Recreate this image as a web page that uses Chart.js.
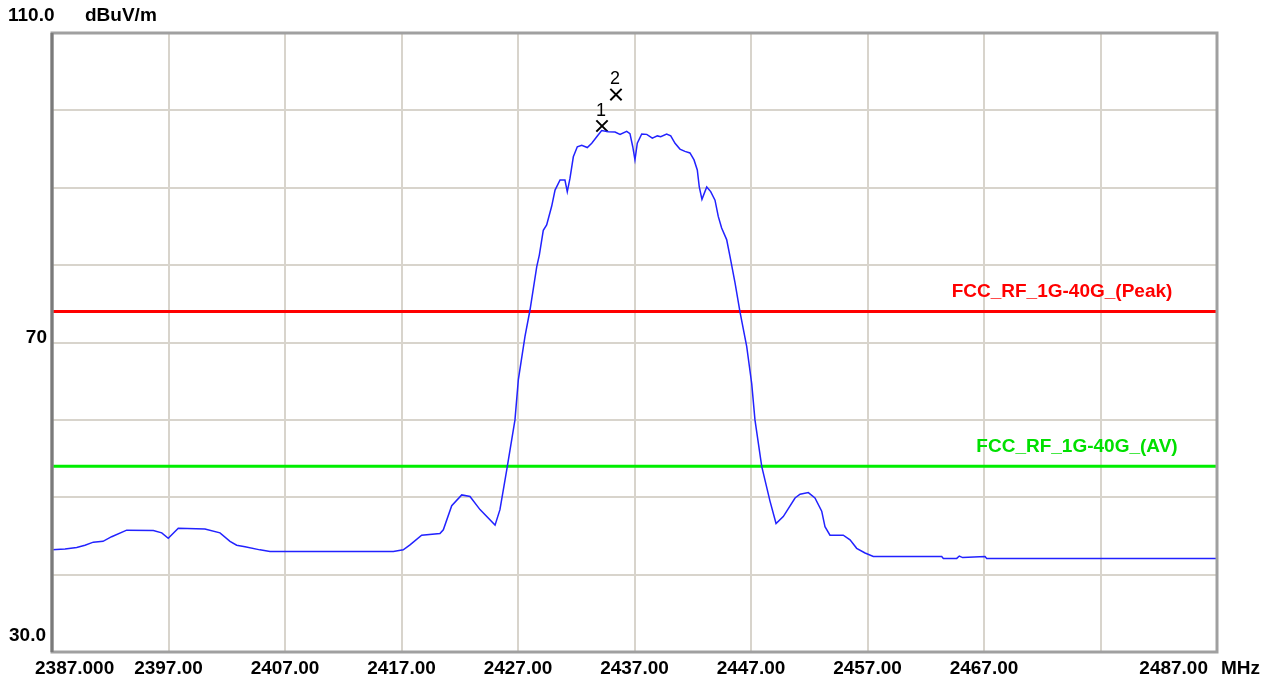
<!DOCTYPE html>
<html>
<head>
<meta charset="utf-8">
<script src="https://cdn.jsdelivr.net/npm/chart.js@4"></script>
<style>
  html, body { margin: 0; padding: 0; background: #ffffff; }
  canvas { display: block; }
</style>
</head>
<body>
<canvas id="chart" width="1270" height="684"></canvas>
<script>

const freqMHz = [
    2387.00, 2388.12, 2389.12, 2389.83, 2390.55, 2391.38, 2392.12, 2393.41, 2395.70, 2396.42,
    2396.98, 2397.84, 2400.13, 2401.42, 2402.28, 2402.85, 2403.57, 2404.85, 2405.71, 2416.30,
    2417.15, 2417.73, 2418.73, 2420.30, 2420.59, 2421.31, 2422.17, 2422.88, 2423.74, 2425.03,
    2425.45, 2426.03, 2426.74, 2427.03, 2427.60, 2428.03, 2428.61, 2428.83, 2429.17, 2429.46,
    2429.89, 2430.18, 2430.61, 2431.03, 2431.23, 2431.46, 2431.75, 2432.09, 2432.47, 2432.95,
    2433.33, 2433.76, 2434.18, 2434.75, 2435.33, 2435.76, 2436.33, 2436.61, 2436.85, 2437.04,
    2437.24, 2437.62, 2438.05, 2438.53, 2438.96, 2439.25, 2439.76, 2440.11, 2440.48, 2440.90,
    2441.33, 2441.76, 2442.11, 2442.39, 2442.56, 2442.79, 2443.20, 2443.54, 2443.91, 2444.19,
    2444.48, 2444.91, 2445.20, 2445.63, 2446.05, 2446.63, 2447.06, 2447.34, 2447.92, 2448.63,
    2449.15, 2449.77, 2450.78, 2451.21, 2451.92, 2452.49, 2453.07, 2453.35, 2453.78, 2454.92,
    2455.50, 2456.07, 2456.79, 2457.50, 2463.37, 2463.51, 2464.66, 2464.88, 2465.17, 2467.09,
    2467.23, 2487.00
]

const levelDbuV = [
    43.2, 43.3, 43.5, 43.8, 44.2, 44.3, 44.9, 45.75, 45.7, 45.4,
    44.7, 46.0, 45.9, 45.4, 44.3, 43.8, 43.6, 43.2, 43.0, 43.0,
    43.2, 43.85, 45.1, 45.3, 45.8, 48.9, 50.3, 50.1, 48.4, 46.4,
    48.4, 53.5, 60.0, 65.2, 70.8, 74.2, 79.8, 81.3, 84.5, 85.2,
    87.6, 89.7, 91.0, 91.0, 89.5, 91.2, 94.0, 95.3, 95.5, 95.2,
    95.75, 96.6, 97.4, 97.25, 97.2, 96.9, 97.3, 97.0, 95.3, 93.6,
    95.75, 96.95, 96.9, 96.4, 96.7, 96.6, 96.95, 96.7, 95.75, 95.0,
    94.7, 94.5, 93.6, 92.3, 90.1, 88.5, 90.1, 89.5, 88.4, 86.3,
    84.8, 83.3, 81.1, 77.7, 74.0, 69.5, 64.7, 60.0, 54.0, 49.5,
    46.6, 47.5, 49.9, 50.4, 50.6, 49.9, 48.2, 46.2, 45.1, 45.1,
    44.5, 43.4, 42.8, 42.35, 42.35, 42.1, 42.1, 42.4, 42.2, 42.35,
    42.1, 42.1
]

const peakLimit = 74
const avLimit = 54
const peakLimitName = "FCC_RF_1G-40G_(Peak)"
const avLimitName = "FCC_RF_1G-40G_(AV)"

const markerNames = ["1", "2"]
const markerFreq = [2434.21, 2435.41]
const markerLevel = [97.98, 102.05]

const xTickValues = [2387, 2397, 2407, 2417, 2427, 2437, 2447, 2457, 2467, 2477, 2487]
const xTickLabels = ["2387.000", "2397.00", "2407.00", "2417.00", "2427.00", "2437.00",
    "2447.00", "2457.00", "2467.00", "", "2487.00"]
const yTickValues = [110, 70, 30]
const yTickLabels = ["110.0", "70", "30.0"]

const xMin = 2387
const xMax = 2487
const yMin = 30
const yMax = 110

const tickFont = "bold 19px 'Liberation Sans', Arial, sans-serif"

const tracePoints = freqMHz.map((f, i) => ({ x: f, y: levelDbuV[i] }))
const markerPoints = markerFreq.map((f, i) => ({ x: f, y: markerLevel[i] }))

const labelsPlugin = {
    id: "labels",
    afterDraw(chart) {
        const ctx = chart.ctx
        const xs = chart.scales.x
        const ys = chart.scales.y
        const area = chart.chartArea

        ctx.save()

        // plot frame
        ctx.strokeStyle = "#a0a0a0"
        ctx.lineWidth = 3
        ctx.strokeRect(area.left, area.top, area.right - area.left, area.bottom - area.top)
        ctx.strokeStyle = "#7a7a7a"
        ctx.beginPath()
        ctx.moveTo(area.left, area.top)
        ctx.lineTo(area.left, area.bottom)
        ctx.stroke()

        ctx.fillStyle = "#000000"
        ctx.font = tickFont
        ctx.textBaseline = "middle"

        xTickValues.forEach((v, i) => {
            const px = xs.getPixelForValue(v)
            if (i === 0) {
                ctx.textAlign = "left"
                ctx.fillText(xTickLabels[i], px - 17, 669)
            } else if (i === xTickValues.length - 1) {
                ctx.textAlign = "right"
                ctx.fillText(xTickLabels[i], px - 9, 669)
            } else {
                ctx.textAlign = "center"
                ctx.fillText(xTickLabels[i], px, 669)
            }
        })
        ctx.textAlign = "left"
        ctx.fillText("MHz", area.right + 4, 669)

        yTickValues.forEach((v, i) => {
            const py = ys.getPixelForValue(v)
            if (v === yMax) {
                ctx.textAlign = "left"
                ctx.fillText(yTickLabels[i], 8, py - 17)
                ctx.fillText("dBuV/m", 85, py - 17)
            } else if (v === yMin) {
                ctx.textAlign = "right"
                ctx.fillText(yTickLabels[i], area.left - 6, py - 16)
            } else {
                ctx.textAlign = "right"
                ctx.fillText(yTickLabels[i], area.left - 5, py - 5)
            }
        })

        ctx.textAlign = "center"
        ctx.fillStyle = "#ff0000"
        ctx.fillText(peakLimitName, 1062, ys.getPixelForValue(peakLimit) - 20)
        ctx.fillStyle = "#00e000"
        ctx.fillText(avLimitName, 1077, ys.getPixelForValue(avLimit) - 20)

        ctx.fillStyle = "#000000"
        ctx.font = "18px 'Liberation Sans', Arial, sans-serif"
        markerNames.forEach((name, i) => {
            const px = xs.getPixelForValue(markerFreq[i])
            const py = ys.getPixelForValue(markerLevel[i])
            ctx.fillText(name, px - 1, py - 15)
        })

        ctx.restore()
    }
}

new Chart(document.getElementById("chart"), {

    type: "line",

    data: {
        datasets: [
            {
                label: "Trace",
                data: tracePoints,
                borderColor: "#2222ff",
                borderWidth: 1.5,
                pointRadius: 0,
                tension: 0
            },
            {
                label: "Markers",
                data: markerPoints,
                showLine: false,
                pointStyle: "crossRot",
                pointRadius: 8,
                borderColor: "#000000",
                borderWidth: 2
            },
            {
                label: peakLimitName,
                data: [{ x: xMin, y: peakLimit }, { x: xMax, y: peakLimit }],
                borderColor: "#ff0000",
                borderWidth: 3,
                pointRadius: 0
            },
            {
                label: avLimitName,
                data: [{ x: xMin, y: avLimit }, { x: xMax, y: avLimit }],
                borderColor: "#00ee00",
                borderWidth: 3,
                pointRadius: 0
            }
        ]
    },

    options: {
        responsive: false,
        animation: false,
        devicePixelRatio: 1,
        layout: {
            padding: { left: 52, right: 53, top: 33, bottom: 32 }
        },
        plugins: {
            legend: { display: false },
            tooltip: { enabled: false }
        },
        scales: {
            x: {
                type: "linear",
                min: xMin,
                max: xMax,
                ticks: { stepSize: 10, display: false },
                grid: { color: "#d8d4cc", lineWidth: 2, drawTicks: false },
                border: { display: false }
            },
            y: {
                min: yMin,
                max: yMax,
                ticks: { stepSize: 10, display: false },
                grid: { color: "#d8d4cc", lineWidth: 2, drawTicks: false },
                border: { display: false }
            }
        }
    },

    plugins: [labelsPlugin]

})

</script>
</body>
</html>
